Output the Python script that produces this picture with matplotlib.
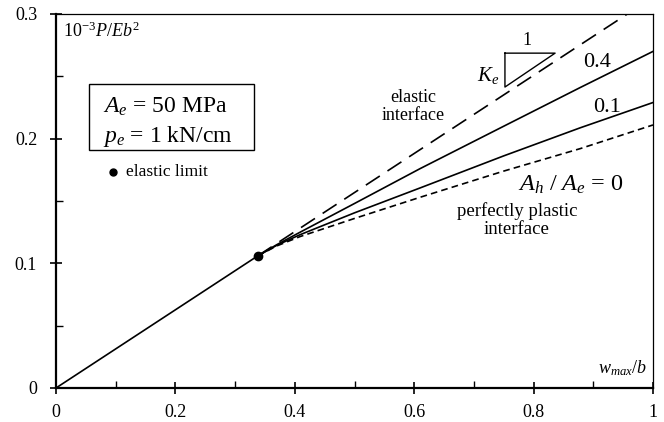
import numpy as np
import matplotlib
matplotlib.use("Agg")
import matplotlib.pyplot as plt
from matplotlib.ticker import MultipleLocator

plt.rcParams['font.family'] = ['Liberation Serif', 'DejaVu Serif']
plt.rcParams['mathtext.fontset'] = 'custom'
plt.rcParams['mathtext.rm'] = 'Liberation Serif'
plt.rcParams['mathtext.it'] = 'Liberation Serif:italic'

# elastic limit
limit_x = 0.338
limit_y = 0.106

# elastic part (solid) and elastic interface (dashed)
elastic_x = [0.0, limit_x]
elastic_y = [0.0, limit_y]
elastic_if_x = [limit_x, 0.957]
elastic_if_y = [limit_y, 0.300]

# hardening curves, A_h / A_e
curve_x = [0.338, 0.37, 0.409, 0.50, 0.61, 0.75, 0.878, 1.0]
curve_04 = [0.106, 0.1150, 0.1250, 0.1480, 0.1760, 0.2100, 0.2410, 0.2700]
curve_01 = [0.106, 0.1145, 0.1230, 0.1405, 0.1605, 0.1862, 0.2087, 0.2290]
curve_00 = [0.106, 0.1140, 0.1215, 0.1360, 0.1530, 0.1740, 0.1920, 0.2110]

xticks = [0, 0.2, 0.4, 0.6, 0.8, 1.0]
xtick_labels = ['0', '0.2', '0.4', '0.6', '0.8', '1']
yticks = [0, 0.1, 0.2, 0.3]
ytick_labels = ['0', '0.1', '0.2', '0.3']

fig = plt.figure(figsize=(6.64, 4.22), dpi=100)
ax = fig.add_axes([56/664, 1-388/422, 597/664, 374/422])

lw = 1.2
ax.plot(elastic_x, elastic_y, color='black', lw=lw)
ax.plot(elastic_if_x, elastic_if_y, color='black', lw=lw, dashes=(10, 5.5))
ax.plot(curve_x, curve_04, color='black', lw=lw)
ax.plot(curve_x, curve_01, color='black', lw=lw)
ax.plot(curve_x, curve_00, color='black', lw=lw, dashes=(4, 2.5))
ax.plot([limit_x], [limit_y], 'o', color='black', ms=6)

ax.set_xlim(0, 1)
ax.set_ylim(0, 0.3)
ax.set_xticks(xticks)
ax.set_xticklabels(xtick_labels)
ax.set_yticks(yticks)
ax.set_yticklabels(ytick_labels)
ax.xaxis.set_minor_locator(MultipleLocator(0.1))
ax.yaxis.set_minor_locator(MultipleLocator(0.05))
ax.tick_params(which='major', direction='inout', length=9, width=1.2, labelsize=13)
ax.tick_params(which='minor', direction='in', length=5, width=1.0)
ax.tick_params(axis='x', pad=7)
ax.tick_params(axis='y', pad=9)
for s in ['left', 'bottom']:
    ax.spines[s].set_linewidth(1.6)
for s in ['top', 'right']:
    ax.spines[s].set_linewidth(0.9)

# labels
ax.text(0.012, 0.2863, r'$\mathrm{10^{-3}}P/Eb^{2}$', fontsize=13, ha='left', va='center')
ax.text(0.99, 0.016, r'$w_{max}/b$', fontsize=13, ha='right', va='center')

# parameter box
box = plt.Rectangle((0.0553, 0.636), 0.2764, 0.177, transform=ax.transAxes,
                    fill=False, edgecolor='black', lw=1.0)
ax.add_patch(box)
ax.text(0.079, 0.2253, r'$A_e$ = 50 MPa', fontsize=17, ha='left', va='center')
ax.text(0.079, 0.2021, r'$p_e$ = 1 kN/cm', fontsize=17, ha='left', va='center')

# legend for elastic limit
ax.plot([0.0955], [0.1732], 'o', color='black', ms=5)
ax.text(0.117, 0.1732, 'elastic limit', fontsize=12.5, ha='left', va='center')

ax.text(0.598, 0.226, 'elastic\ninterface', fontsize=13, ha='center', va='center', linespacing=1.1)
ax.text(0.772, 0.1347, 'perfectly plastic\ninterface', fontsize=13.5, ha='center', va='center', linespacing=1.05)
ax.text(0.906, 0.2614, '0.4', fontsize=16, ha='center', va='center')
ax.text(0.923, 0.2253, '0.1', fontsize=16, ha='center', va='center')
ax.text(0.862, 0.1628, r'$A_h\ /\ A_e$ = 0', fontsize=17.5, ha='center', va='center')

# slope triangle
ax.plot([0.752, 0.836, 0.752, 0.752], [0.2686, 0.2686, 0.2414, 0.2686], color='black', lw=1.0)
ax.text(0.789, 0.279, '1', fontsize=13, ha='center', va='center')
ax.text(0.724, 0.251, r'$K_e$', fontsize=15, ha='center', va='center')

fig.savefig('out.png', dpi=100)
